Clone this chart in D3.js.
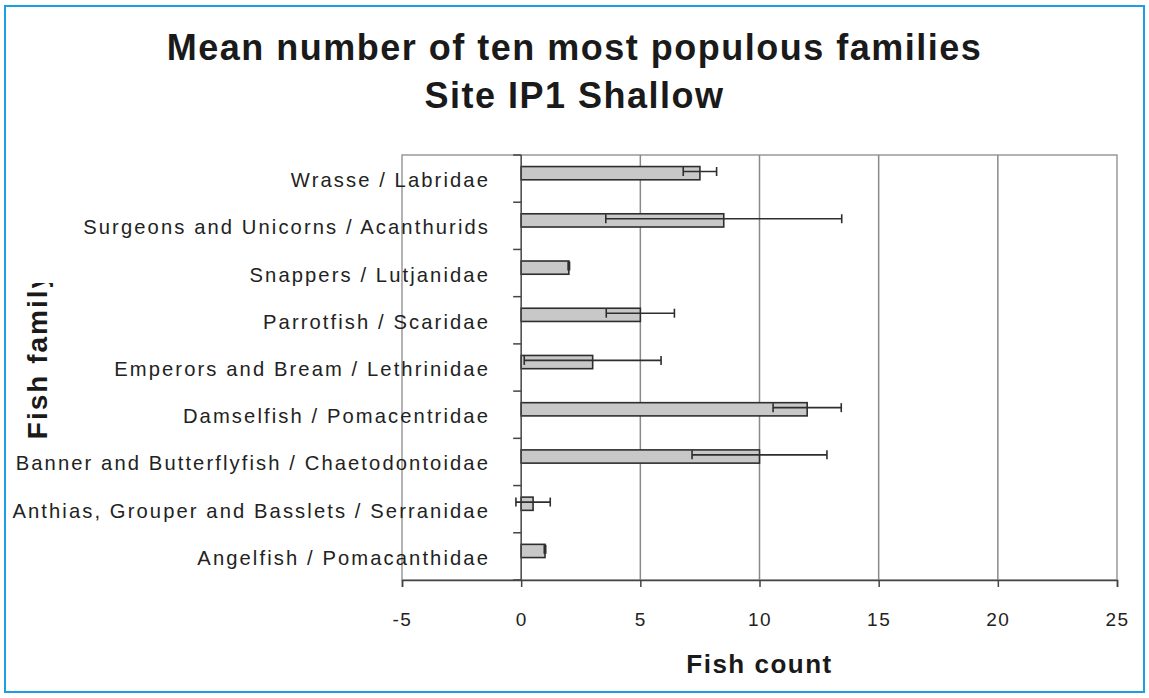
<!DOCTYPE html>
<html><head><meta charset="utf-8">
<script src="https://cdn.jsdelivr.net/npm/d3@7"></script>
<style>
html,body{margin:0;padding:0;background:#fff;}
svg{display:block;font-family:"Liberation Sans",Arial,sans-serif;}
</style></head>
<body>
<svg id="chart" width="1149" height="698"></svg>
<script>
// ---- data ----
const categories = [
  "Wrasse / Labridae",
  "Surgeons and Unicorns / Acanthurids",
  "Snappers / Lutjanidae",
  "Parrotfish / Scaridae",
  "Emperors and Bream / Lethrinidae",
  "Damselfish / Pomacentridae",
  "Banner and Butterflyfish / Chaetodontoidae",
  "Anthias, Grouper and Basslets / Serranidae",
  "Angelfish / Pomacanthidae"
];
const meanCounts = [7.5, 8.5, 2.0, 5.0, 3.0, 12.0, 10.0, 0.5, 1.0];
const errorValues = [0.7, 4.95, 0.03, 1.43, 2.87, 1.43, 2.83, 0.72, 0.03];
const xTicks = [-5, 0, 5, 10, 15, 20, 25];
const titleLines = ["Mean number of ten most populous families", "Site IP1 Shallow"];
const xAxisTitle = "Fish count";
const yAxisTitle = "Fish family";

// ---- layout ----
const svg = d3.select("#chart");
const W = 1149, H = 698;
const plot = {left: 402, right: 1117, top: 155, bottom: 580};

// frame
svg.append("rect").attr("x", 5).attr("y", 6).attr("width", W - 10).attr("height", H - 12)
  .attr("fill", "#fff").attr("stroke", "#1b9fe2").attr("stroke-width", 2);

const x = d3.scaleLinear().domain([-5, 25]).range([plot.left, plot.right]);
const y = d3.scaleBand().domain(categories).range([plot.top, plot.bottom]).padding(0);
const bw = y.bandwidth();

// plot border
svg.append("rect").attr("x", plot.left).attr("y", plot.top)
  .attr("width", plot.right - plot.left).attr("height", plot.bottom - plot.top)
  .attr("fill", "none").attr("stroke", "#8a8a8a").attr("stroke-width", 1.3);

// gridlines
svg.append("g").selectAll("line").data(xTicks.filter(t => t > 0 && t < 25)).join("line")
  .attr("x1", d => x(d)).attr("x2", d => x(d))
  .attr("y1", plot.top).attr("y2", plot.bottom)
  .attr("stroke", "#8a8a8a").attr("stroke-width", 1.5);

// x axis
const xAxis = d3.axisBottom(x).tickValues(xTicks).tickSize(7).tickPadding(26)
  .tickFormat(d => String(d));
const gx = svg.append("g").attr("transform", `translate(0,${plot.bottom})`).call(xAxis);
gx.select(".domain").attr("stroke", "#444").attr("stroke-width", 1.5);
gx.selectAll(".tick line").attr("stroke", "#444").attr("stroke-width", 1.5);
gx.selectAll(".tick text").attr("fill", "#222").style("font-size", "19px")
  .style("letter-spacing", "1.5px").attr("font-family", null);

// bars
svg.append("g").selectAll("rect").data(categories).join("rect")
  .attr("x", (d, i) => x(Math.min(0, meanCounts[i])))
  .attr("y", d => y(d) + bw * 0.245)
  .attr("width", (d, i) => Math.abs(x(meanCounts[i]) - x(0)))
  .attr("height", bw * 0.28)
  .attr("fill", "#c8c8c8").attr("stroke", "#2e2e2e").attr("stroke-width", 1.6);

// category axis at x=0
svg.append("line").attr("x1", x(0)).attr("x2", x(0)).attr("y1", plot.top).attr("y2", plot.bottom)
  .attr("stroke", "#444").attr("stroke-width", 1.5);
const bounds = categories.map(c => y(c)).concat([plot.bottom]);
svg.append("g").selectAll("line").data(bounds).join("line")
  .attr("x1", x(0) - 8).attr("x2", x(0)).attr("y1", d => d).attr("y2", d => d)
  .attr("stroke", "#444").attr("stroke-width", 1.5);

// error bars
const eg = svg.append("g").attr("stroke", "#2e2e2e").attr("stroke-width", 1.6);
categories.forEach((c, i) => {
  const cy = y(c) + bw * 0.35;
  const lo = meanCounts[i] - errorValues[i], hi = meanCounts[i] + errorValues[i];
  eg.append("line").attr("x1", x(lo)).attr("x2", x(hi)).attr("y1", cy).attr("y2", cy);
  [lo, hi].forEach(v => eg.append("line").attr("x1", x(v)).attr("x2", x(v))
    .attr("y1", cy - 4.5).attr("y2", cy + 4.5));
});

// category labels
svg.append("g").selectAll("text").data(categories).join("text")
  .attr("x", 490).attr("y", d => y(d) + bw / 2 + 8.5)
  .attr("text-anchor", "end").attr("fill", "#222")
  .style("font-size", "20.2px").style("letter-spacing", "2.1px")
  .text(d => d);

// titles
svg.append("g").selectAll("text").data(titleLines).join("text")
  .attr("x", W / 2).attr("y", (d, i) => 60 + i * 48)
  .attr("text-anchor", "middle").attr("fill", "#1a1a1a")
  .style("font-size", "36px").style("font-weight", "bold").style("letter-spacing", "1.5px")
  .text(d => d);

svg.append("text").attr("x", (plot.left + plot.right) / 2).attr("y", 673)
  .attr("text-anchor", "middle").attr("fill", "#1a1a1a")
  .style("font-size", "26px").style("font-weight", "bold").style("letter-spacing", "1.5px")
  .text(xAxisTitle);

svg.append("defs").append("clipPath").attr("id", "yclip")
  .append("rect").attr("x", 0).attr("y", 283).attr("width", 80).attr("height", 200);
svg.append("g").attr("clip-path", "url(#yclip)")
  .append("text")
  .attr("transform", "translate(47,355) rotate(-90)")
  .attr("text-anchor", "middle").attr("fill", "#1a1a1a")
  .style("font-size", "28px").style("font-weight", "bold").style("letter-spacing", "2px")
  .text(yAxisTitle);
</script>
</body></html>
